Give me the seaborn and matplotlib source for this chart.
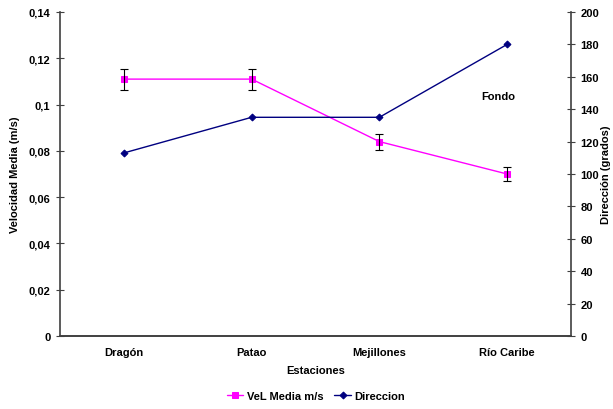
import matplotlib
matplotlib.use("Agg")
import matplotlib.pyplot as plt
import seaborn as sns
import numpy as np
import pandas as pd

estaciones = ["Dragón", "Patao", "Mejillones", "Río Caribe"]
velocidad = [0.111, 0.111, 0.084, 0.070]
vel_err = [0.0045, 0.0045, 0.0035, 0.003]
direccion = [113, 135, 135, 180]

sns.set_style("white")
plt.rcParams['font.family'] = ['Liberation Sans', 'DejaVu Sans']
plt.rcParams['font.weight'] = 'bold'
plt.rcParams['text.color'] = 'black'
plt.rcParams['axes.labelcolor'] = 'black'
plt.rcParams['xtick.color'] = 'black'
plt.rcParams['ytick.color'] = 'black'

fig = plt.figure(figsize=(6.13, 4.10), dpi=100)
ax = fig.add_axes([60/613, 1-337/410, (571-60)/613, (337-13)/410])
ax2 = ax.twinx()

pos = np.arange(len(estaciones))
df = pd.DataFrame({"pos": pos, "vel": velocidad, "dir": direccion})

sns.lineplot(data=df, x="pos", y="vel", ax=ax, color="#FF00FF", lw=1,
             marker="s", markersize=5, markeredgecolor="#FF00FF", label="VeL Media m/s", legend=False)
ax.errorbar(pos, velocidad, yerr=vel_err, fmt="none", ecolor="black", elinewidth=0.8, capsize=3, capthick=0.8)
sns.lineplot(data=df, x="pos", y="dir", ax=ax2, color="#000080", lw=1,
             marker="D", markersize=3.5, markeredgecolor="#000080", label="Direccion", legend=False)

ax.set_xlim(-0.5, 3.5)
ax.set_ylim(0, 0.14)
ax2.set_ylim(0, 200)
ax.set_yticks(np.arange(0, 0.141, 0.02))
ax.set_yticklabels(["0" if v == 0 else f"{v:.2f}".rstrip("0").replace(".", ",") for v in np.arange(0, 0.141, 0.02)])
ax2.set_yticks(np.arange(0, 201, 20))
ax.set_xticks(pos)
ax.set_xticklabels(estaciones)
ax.set_xticks(np.arange(-0.5, 3.6, 1), minor=True)
ax.tick_params(axis="x", which="major", length=0, pad=8, labelsize=8)
ax.tick_params(axis="x", which="minor", length=6, direction="inout", width=0.8, color="#404040")
ax.tick_params(axis="y", length=6, direction="inout", width=0.8, labelsize=8, pad=4, color="#404040")
ax2.tick_params(axis="y", length=6, direction="inout", width=0.8, labelsize=8, pad=4, color="#404040")

for a in (ax, ax2):
    a.spines["top"].set_visible(False)
    for s in ("left", "right", "bottom"):
        a.spines[s].set_color("#404040")
        a.spines[s].set_linewidth(1.2)
ax.spines["right"].set_visible(False)
ax2.spines["left"].set_visible(False)

ax.set_xlabel("Estaciones", fontsize=8, fontweight="bold", labelpad=6)
ax.set_ylabel("Velocidad Media (m/s)", fontsize=8, fontweight="bold", labelpad=6)
ax2.set_ylabel("Dirección (grados)", fontsize=8, fontweight="bold", labelpad=1)

ax.text(2.93, 0.1035, "Fondo", fontsize=8, fontweight="bold", ha="center", va="center")

h1, l1 = ax.get_legend_handles_labels()
h2, l2 = ax2.get_legend_handles_labels()
fig.legend(h1 + h2, l1 + l2, loc="center", bbox_to_anchor=(316/613, 1-397/410), ncol=2,
           frameon=False, fontsize=8, handlelength=1.5, columnspacing=1.0, handletextpad=0.3)

fig.savefig("out.png", dpi=100)
